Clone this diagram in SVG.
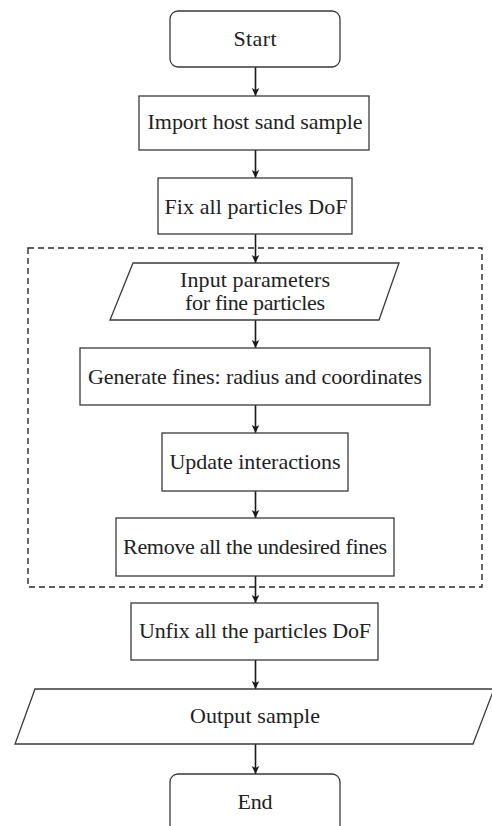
<svg xmlns="http://www.w3.org/2000/svg" width="492" height="826" viewBox="0 0 492 826">
<style>
.box{fill:#fff;stroke:#3a3a3a;stroke-width:1.3}
.lbl{font-family:"Liberation Serif","Times New Roman",serif;font-size:22px;fill:#222;text-anchor:middle}
.arr{stroke:#1a1a1a;stroke-width:1.6;fill:none;marker-end:url(#ah)}
.grp{fill:none;stroke:#2a2a2a;stroke-width:1.4;stroke-dasharray:6 4}
</style>
<defs>
<marker id="ah" markerUnits="userSpaceOnUse" markerWidth="10" markerHeight="10" viewBox="0 0 10 10" refX="9" refY="5" orient="auto">
<path d="M1,1.2 L9,5 L1,8.8 L3,5 Z" fill="#1a1a1a"/>
</marker>
</defs>
<rect x="0" y="0" width="492" height="826" fill="#fff"/>
<g id="group-box">
<rect class="grp" x="28" y="248" width="454" height="339"/>
</g>
<g id="connectors">
<line class="arr" x1="255.5" y1="67" x2="255.5" y2="96"/>
<line class="arr" x1="255.5" y1="150" x2="255.5" y2="178"/>
<line class="arr" x1="255.5" y1="234" x2="255.5" y2="263"/>
<line class="arr" x1="255.5" y1="320" x2="255.5" y2="348"/>
<line class="arr" x1="255.5" y1="405" x2="255.5" y2="433"/>
<line class="arr" x1="255.5" y1="491" x2="255.5" y2="518"/>
<line class="arr" x1="255.5" y1="576" x2="255.5" y2="603"/>
<line class="arr" x1="255.5" y1="660" x2="255.5" y2="689"/>
<line class="arr" x1="255.5" y1="744" x2="255.5" y2="774"/>
</g>
<g id="start">
<rect class="box" x="170" y="11" width="170" height="56" rx="8"/>
<text class="lbl" x="255" y="46" textLength="43">Start</text>
</g>
<g id="import">
<rect class="box" x="139" y="96" width="230" height="54"/>
<text class="lbl" x="255" y="129" textLength="215">Import host sand sample</text>
</g>
<g id="fix">
<rect class="box" x="158" y="178" width="194" height="56"/>
<text class="lbl" x="256" y="214" textLength="183">Fix all particles DoF</text>
</g>
<g id="input">
<polygon class="box" points="133,263 399,263 379,320 110,320"/>
<text class="lbl" x="255" y="287" textLength="150">Input parameters</text>
<text class="lbl" x="255" y="310" textLength="140">for fine particles</text>
</g>
<g id="generate">
<rect class="box" x="80" y="348" width="350" height="57"/>
<text class="lbl" x="255" y="384" textLength="334">Generate fines: radius and coordinates</text>
</g>
<g id="update">
<rect class="box" x="162" y="433" width="186" height="58"/>
<text class="lbl" x="255" y="469" textLength="171">Update interactions</text>
</g>
<g id="remove">
<rect class="box" x="116" y="518" width="278" height="58"/>
<text class="lbl" x="255" y="554" textLength="264">Remove all the undesired fines</text>
</g>
<g id="unfix">
<rect class="box" x="131" y="603" width="247" height="57"/>
<text class="lbl" x="255" y="638" textLength="232">Unfix all the particles DoF</text>
</g>
<g id="output">
<polygon class="box" points="35,689 494,689 473,744 15,744"/>
<text class="lbl" x="255" y="723" textLength="130">Output sample</text>
</g>
<g id="end">
<rect class="box" x="170" y="774" width="170" height="70" rx="8"/>
<text class="lbl" x="255" y="809" textLength="35">End</text>
</g>
</svg>
